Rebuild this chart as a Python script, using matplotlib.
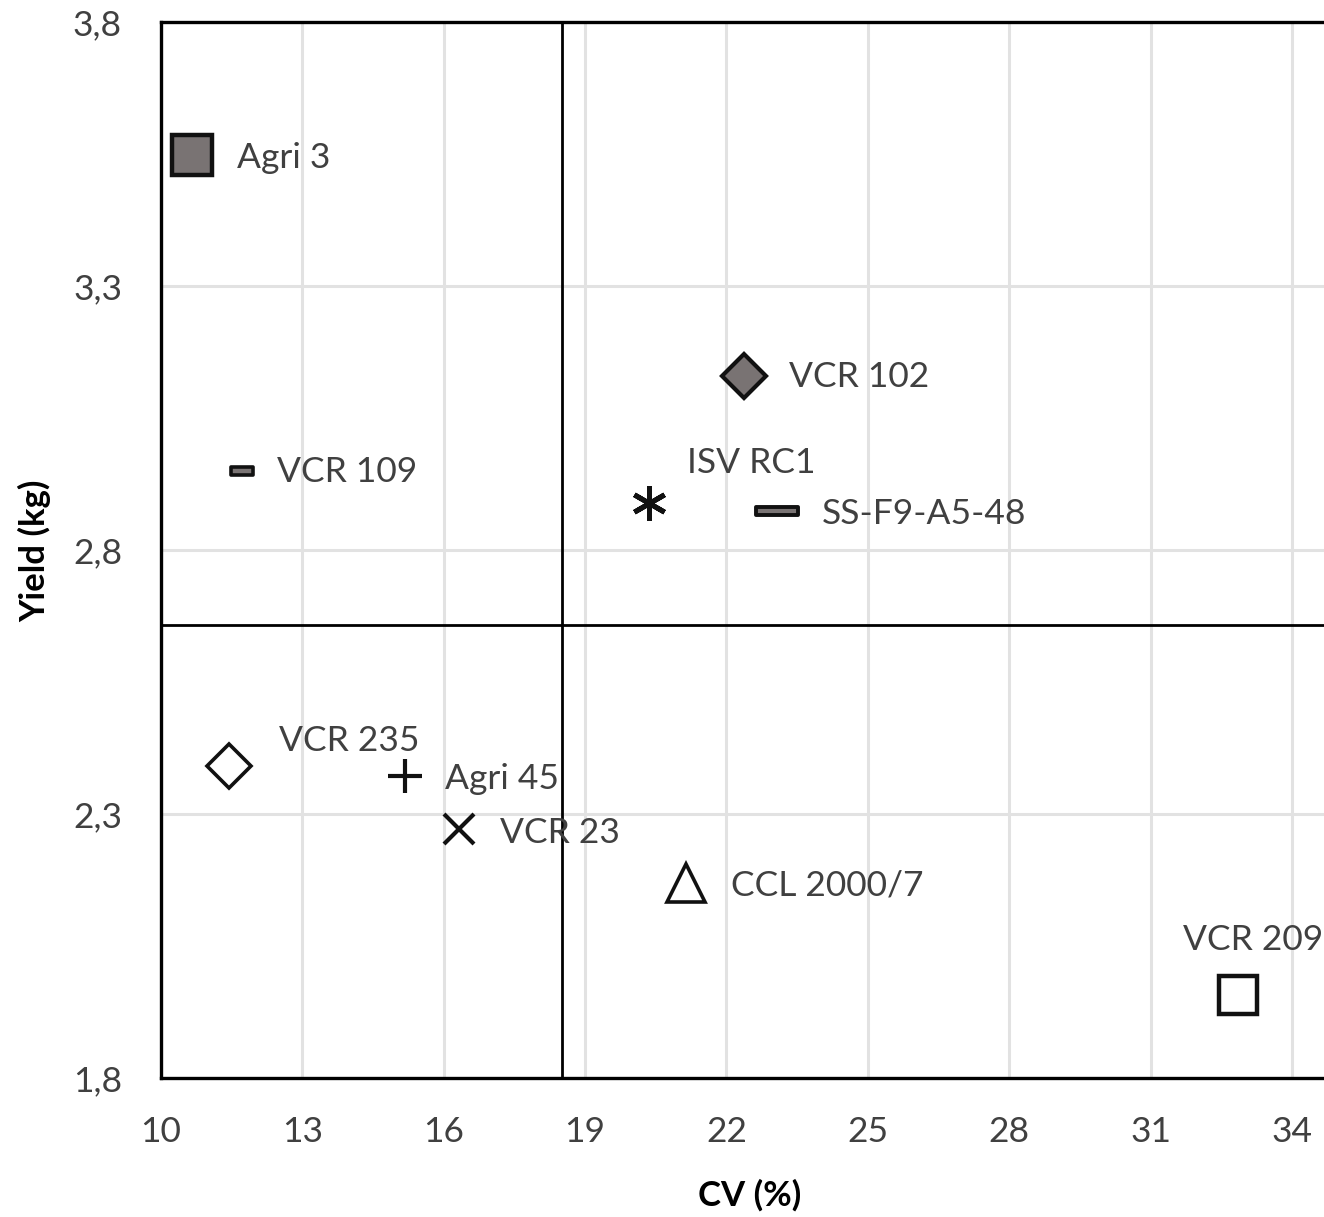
import numpy as np
import matplotlib.pyplot as plt
from matplotlib.path import Path

plt.rcParams['font.family'] = ['Lato', 'DejaVu Sans']

# data
names = ['Agri 3', 'VCR 109', 'VCR 102', 'ISV RC1', 'SS-F9-A5-48',
         'VCR 235', 'Agri 45', 'VCR 23', 'CCL 2000/7', 'VCR 209']
cv = [10.66, 11.72, 22.38, 20.36, 23.08, 11.44, 15.18, 16.33, 21.15, 32.85]
yld = [3.548, 2.950, 3.130, 2.889, 2.874, 2.391, 2.372, 2.272, 2.169, 1.957]
cv_mean = 18.51
yld_mean = 2.658
xticks = [10, 13, 16, 19, 22, 25, 28, 31, 34]
yticks = [1.8, 2.3, 2.8, 3.3, 3.8]

# marker styling (Excel-like)
def dash(h):
    return Path([(-1, -h), (1, -h), (1, h), (-1, h), (-1, -h)], [1, 2, 2, 2, 79])

styles = [
    dict(marker='s', ms=29, mfc='#797373', mew=3.2),
    dict(marker=dash(0.35), ms=16, mfc='#7a7474', mew=2.6),
    dict(marker='D', ms=22, mfc='#797373', mew=3.0),
    dict(marker=(6, 2, 0), ms=25, mfc='none', mew=3.6),
    dict(marker=dash(0.2), ms=30, mfc='#7a7474', mew=2.8),
    dict(marker='D', ms=22, mfc='white', mew=2.6),
    dict(marker='+', ms=24, mfc='none', mew=3.0),
    dict(marker='x', ms=21, mfc='none', mew=3.0),
    dict(marker='^', ms=28, mfc='white', mew=2.6),
    dict(marker='s', ms=28, mfc='white', mew=3.2),
]
# label offsets in points, alignment
offs = [(32, -2, 'left'), (25, -1, 'left'), (32, -1, 'left'), (27, 29, 'left'),
        (32, -2, 'left'), (36, 18, 'left'), (29, -2, 'left'), (29, -3, 'left'),
        (32, -2, 'left'), (11, 40, 'center')]

fig = plt.figure(figsize=(13.24, 12.17), dpi=100)
ax = fig.add_axes([161 / 1324, 1 - 1078 / 1217, 1 - 161 / 1324, (1078 - 22) / 1217])
ax.set_xlim(10, 10 + (1324 - 161) / 47.12)
ax.set_ylim(1.8, 3.8)

ax.set_xticks(xticks)
ax.set_yticks(yticks)
ax.set_xticklabels([str(t) for t in xticks])
ax.set_yticklabels([f'{t:.1f}'.replace('.', ',') for t in yticks])
ax.tick_params(length=0, labelsize=25.5, colors='#404040')
ax.tick_params(axis='y', pad=28)
ax.tick_params(axis='x', pad=27)
ax.grid(True, color='#e2e2e2', lw=2.2)
ax.set_axisbelow(True)

for s in ['left', 'top', 'bottom']:
    ax.spines[s].set_linewidth(2.4)
    ax.spines[s].set_color('black')
ax.spines['right'].set_visible(False)

ax.axvline(cv_mean, color='black', lw=2.0, zorder=2)
ax.axhline(yld_mean, color='black', lw=2.0, zorder=2)

for i, n in enumerate(names):
    st = styles[i]
    ax.plot(cv[i], yld[i], linestyle='none', marker=st['marker'], ms=st['ms'],
            mfc=st['mfc'], mec='#111111', mew=st['mew'], zorder=5, clip_on=False)
    dx, dy, ha = offs[i]
    ax.annotate(n, (cv[i], yld[i]), xytext=(dx, dy), textcoords='offset points',
                ha=ha, va='center', fontsize=25.5, color='#404040', zorder=6)

fig.text(35 / 1324, 1 - 551 / 1217, 'Yield (kg)', rotation=90, ha='center', va='center',
         fontsize=25, fontweight='bold', color='black')
fig.text(750 / 1324, 1 - 1195 / 1217, 'CV (%)', ha='center', va='center',
         fontsize=25, fontweight='bold', color='black')

fig.savefig('out.png', dpi=100, facecolor='white')
